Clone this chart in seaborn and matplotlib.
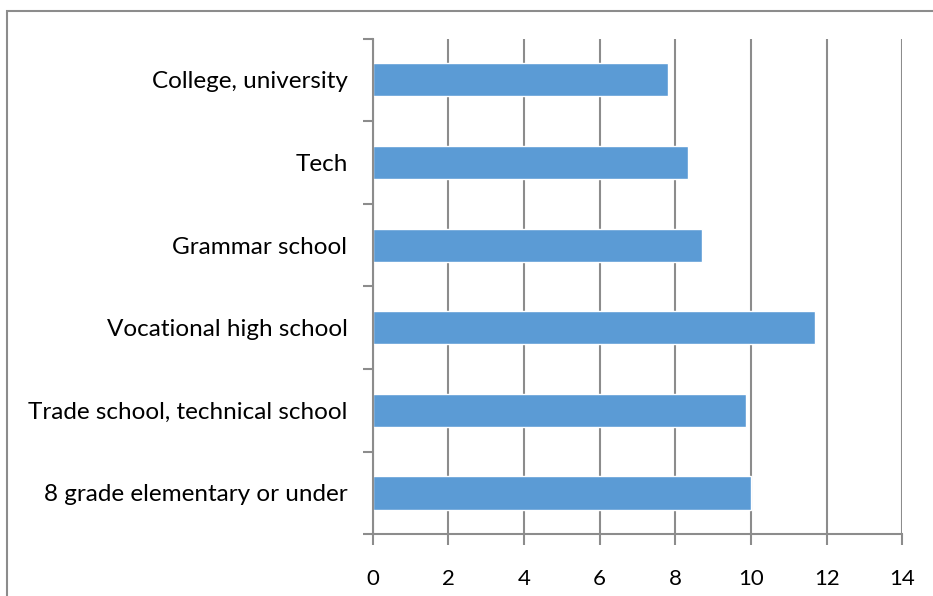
import matplotlib
matplotlib.use("Agg")
import matplotlib.pyplot as plt
import seaborn as sns
import pandas as pd
from matplotlib.ticker import FixedLocator
from matplotlib.patches import Rectangle

categories = ["College, university", "Tech", "Grammar school",
              "Vocational high school", "Trade school, technical school",
              "8 grade elementary or under"]
values = [7.8, 8.33, 8.7, 11.7, 9.87, 10.0]
x_ticks = [0, 2, 4, 6, 8, 10, 12, 14]

sns.set_theme(style="white")
plt.rcParams["font.family"] = ["Lato", "DejaVu Sans"]

df = pd.DataFrame({"category": categories, "value": values})

fig = plt.figure(figsize=(9.33, 5.96), dpi=100)
ax = fig.add_axes([372.5/933, 1 - 534.3/596, (902.3-372.5)/933, (534.3-38.5)/596])

sns.barplot(data=df, x="value", y="category", orient="h", color="#5B9BD5",
            saturation=1, width=0.4, ax=ax)

grid_c = "#8C8C8C"
ax.set_xlim(0, 14)
ax.set_ylim(len(categories) - 0.5, -0.5)
ax.set_xticks(x_ticks)
ax.set_xticklabels([str(t) for t in x_ticks])
ax.xaxis.grid(True, color=grid_c, linewidth=1.5)
ax.yaxis.grid(False)
ax.set_axisbelow(True)
ax.set_xlabel("")
ax.set_ylabel("")

for s in ["top", "right"]:
    ax.spines[s].set_visible(False)
for s in ["left", "bottom"]:
    ax.spines[s].set_color(grid_c)
    ax.spines[s].set_linewidth(1.5)

ax.yaxis.set_minor_locator(FixedLocator([i - 0.5 for i in range(len(categories) + 1)]))
ax.tick_params(axis="y", which="major", length=0, pad=18, labelsize=17.5, labelcolor="black")
ax.tick_params(axis="y", which="minor", left=True, length=7, width=1.5, color=grid_c)
ax.tick_params(axis="x", which="major", bottom=True, length=8, width=1.5, color=grid_c,
               pad=17, labelsize=16, labelcolor="black")

fig.patches.append(Rectangle((7/933, -0.1), 1.2, (596 - 11)/596 + 0.1,
                             transform=fig.transFigure, fill=False,
                             edgecolor="#8C8C8C", linewidth=1.5))

fig.savefig("out.png", dpi=100)
